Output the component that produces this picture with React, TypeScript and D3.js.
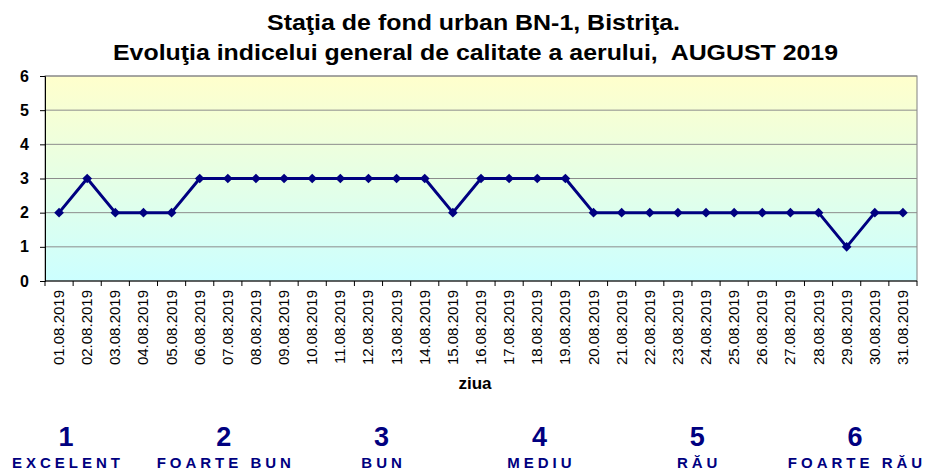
import React, { useEffect, useRef } from 'react'
import * as d3 from 'd3'

const days = [
	'01.08.2019', '02.08.2019', '03.08.2019', '04.08.2019', '05.08.2019', '06.08.2019',
	'07.08.2019', '08.08.2019', '09.08.2019', '10.08.2019', '11.08.2019', '12.08.2019',
	'13.08.2019', '14.08.2019', '15.08.2019', '16.08.2019', '17.08.2019', '18.08.2019',
	'19.08.2019', '20.08.2019', '21.08.2019', '22.08.2019', '23.08.2019', '24.08.2019',
	'25.08.2019', '26.08.2019', '27.08.2019', '28.08.2019', '29.08.2019', '30.08.2019',
	'31.08.2019',
]
const indexValues = [2, 3, 2, 2, 2, 3, 3, 3, 3, 3, 3, 3, 3, 3, 2, 3, 3, 3, 3, 2, 2, 2, 2, 2, 2, 2, 2, 2, 1, 2, 2]
const yTicks = [0, 1, 2, 3, 4, 5, 6]
const legendNumbers = ['1', '2', '3', '4', '5', '6']
const legendLabels = ['EXCELENT', 'FOARTE BUN', 'BUN', 'MEDIU', 'RĂU', 'FOARTE RĂU']
const titleLines = [
	'Staţia de fond urban BN-1, Bistriţa.',
	'Evoluţia indicelui general de calitate a aerului,  AUGUST 2019',
]

const W = 928
const H = 470
const plot = { left: 45, right: 917, top: 76, bottom: 281 }
const sans = "'Liberation Sans', Arial, sans-serif"
// title is a condensed bold face in the original, squeeze it to the same width
const titleBox = [
	{ x: 267, width: 413, y: 30 },
	{ x: 113, width: 725, y: 60 },
]

const App = () => {
	const ref = useRef<SVGSVGElement>(null)

	useEffect(() => {
		document.body.style.margin = '0'
		const svg = d3.select(ref.current)
		svg.selectAll('*').remove()

		const x = d3.scaleBand().domain(days).range([plot.left, plot.right])
		const y = d3.scaleLinear().domain([0, 6]).range([plot.bottom, plot.top])
		const cx = (d: string) => x(d)! + x.bandwidth() / 2

		const grad = svg.append('defs').append('linearGradient')
			.attr('id', 'bg')
			.attr('x1', 0).attr('y1', 0).attr('x2', 0).attr('y2', 1)
		grad.append('stop').attr('offset', '0%').attr('stop-color', '#ffffcc')
		grad.append('stop').attr('offset', '100%').attr('stop-color', '#ccffff')

		svg.append('rect')
			.attr('x', plot.left)
			.attr('y', plot.top)
			.attr('width', plot.right - plot.left)
			.attr('height', plot.bottom - plot.top)
			.attr('fill', 'url(#bg)')
			.attr('stroke', '#808080')

		svg.append('g')
			.selectAll('line')
			.data(yTicks.slice(1))
			.join('line')
			.attr('x1', plot.left)
			.attr('x2', plot.right)
			.attr('y1', d => y(d))
			.attr('y2', d => y(d))
			.attr('stroke', '#8c8c8c')

		// y axis
		const yAxis = d3.axisLeft(y).tickValues(yTicks).tickSize(5).tickPadding(11).tickFormat(d3.format('d'))
		const yg = svg.append('g').attr('transform', `translate(${plot.left},0)`).call(yAxis)
		yg.select('.domain').attr('stroke', '#000')
		yg.selectAll('.tick line').attr('stroke', '#000')
		yg.selectAll('.tick text')
			.attr('font-family', sans)
			.attr('font-weight', 'bold')
			.attr('font-size', 16)
			.attr('fill', '#000')

		// x axis, ticks sit between the days
		svg.append('line')
			.attr('x1', plot.left).attr('x2', plot.right)
			.attr('y1', plot.bottom).attr('y2', plot.bottom)
			.attr('stroke', '#000')
		svg.append('g')
			.selectAll('line')
			.data(d3.range(days.length + 1))
			.join('line')
			.attr('x1', i => plot.left + i * x.step())
			.attr('x2', i => plot.left + i * x.step())
			.attr('y1', plot.bottom)
			.attr('y2', plot.bottom + 5)
			.attr('stroke', '#000')

		svg.append('g')
			.selectAll('text')
			.data(days)
			.join('text')
			.attr('transform', d => `translate(${cx(d) + 5},${plot.bottom + 9}) rotate(-90)`)
			.attr('text-anchor', 'end')
			.attr('font-family', sans)
			.attr('font-size', 15)
			.attr('fill', '#000')
			.text(d => d)

		svg.append('text')
			.attr('x', 475)
			.attr('y', 389)
			.attr('text-anchor', 'middle')
			.attr('font-family', sans)
			.attr('font-weight', 'bold')
			.attr('font-size', 17)
			.text('ziua')

		// series
		const line = d3.line<number>()
			.x((d, i) => cx(days[i]))
			.y(d => y(d))
		svg.append('path')
			.attr('d', line(indexValues))
			.attr('fill', 'none')
			.attr('stroke', '#000080')
			.attr('stroke-width', 3)
			.attr('stroke-linejoin', 'round')

		const diamond = d3.symbol().type(d3.symbolDiamond2).size(60)
		svg.append('g')
			.selectAll('path')
			.data(indexValues)
			.join('path')
			.attr('transform', (d, i) => `translate(${cx(days[i])},${y(d)})`)
			.attr('d', diamond())
			.attr('fill', '#000080')

		// title
		svg.append('g')
			.selectAll('text')
			.data(titleLines)
			.join('text')
			.attr('x', (d, i) => titleBox[i].x)
			.attr('y', (d, i) => titleBox[i].y)
			.attr('textLength', (d, i) => titleBox[i].width)
			.attr('lengthAdjust', 'spacingAndGlyphs')
			.attr('font-family', sans)
			.attr('font-weight', 'bold')
			.attr('font-size', 22)
			.attr('fill', '#000')
			.style('white-space', 'pre')
			.text(d => d)

		// index legend
		const legendX = d3.scalePoint().domain(legendNumbers).range([66, 855])
		svg.append('g')
			.selectAll('text')
			.data(legendNumbers)
			.join('text')
			.attr('x', d => legendX(d)!)
			.attr('y', 446)
			.attr('text-anchor', 'middle')
			.attr('font-family', sans)
			.attr('font-weight', 'bold')
			.attr('font-size', 27)
			.attr('fill', '#000080')
			.text(d => d)
		svg.append('g')
			.selectAll('text')
			.data(legendLabels)
			.join('text')
			.attr('x', (d, i) => legendX(legendNumbers[i])! + 2)
			.attr('y', 468)
			.attr('text-anchor', 'middle')
			.attr('font-family', sans)
			.attr('font-weight', 'bold')
			.attr('font-size', 15)
			.attr('letter-spacing', 4)
			.attr('fill', '#000080')
			.text(d => d)
	}, [])

	return <svg ref={ref} width={W} height={H} style={{ display: 'block', background: '#fff' }} />
}

export default App
